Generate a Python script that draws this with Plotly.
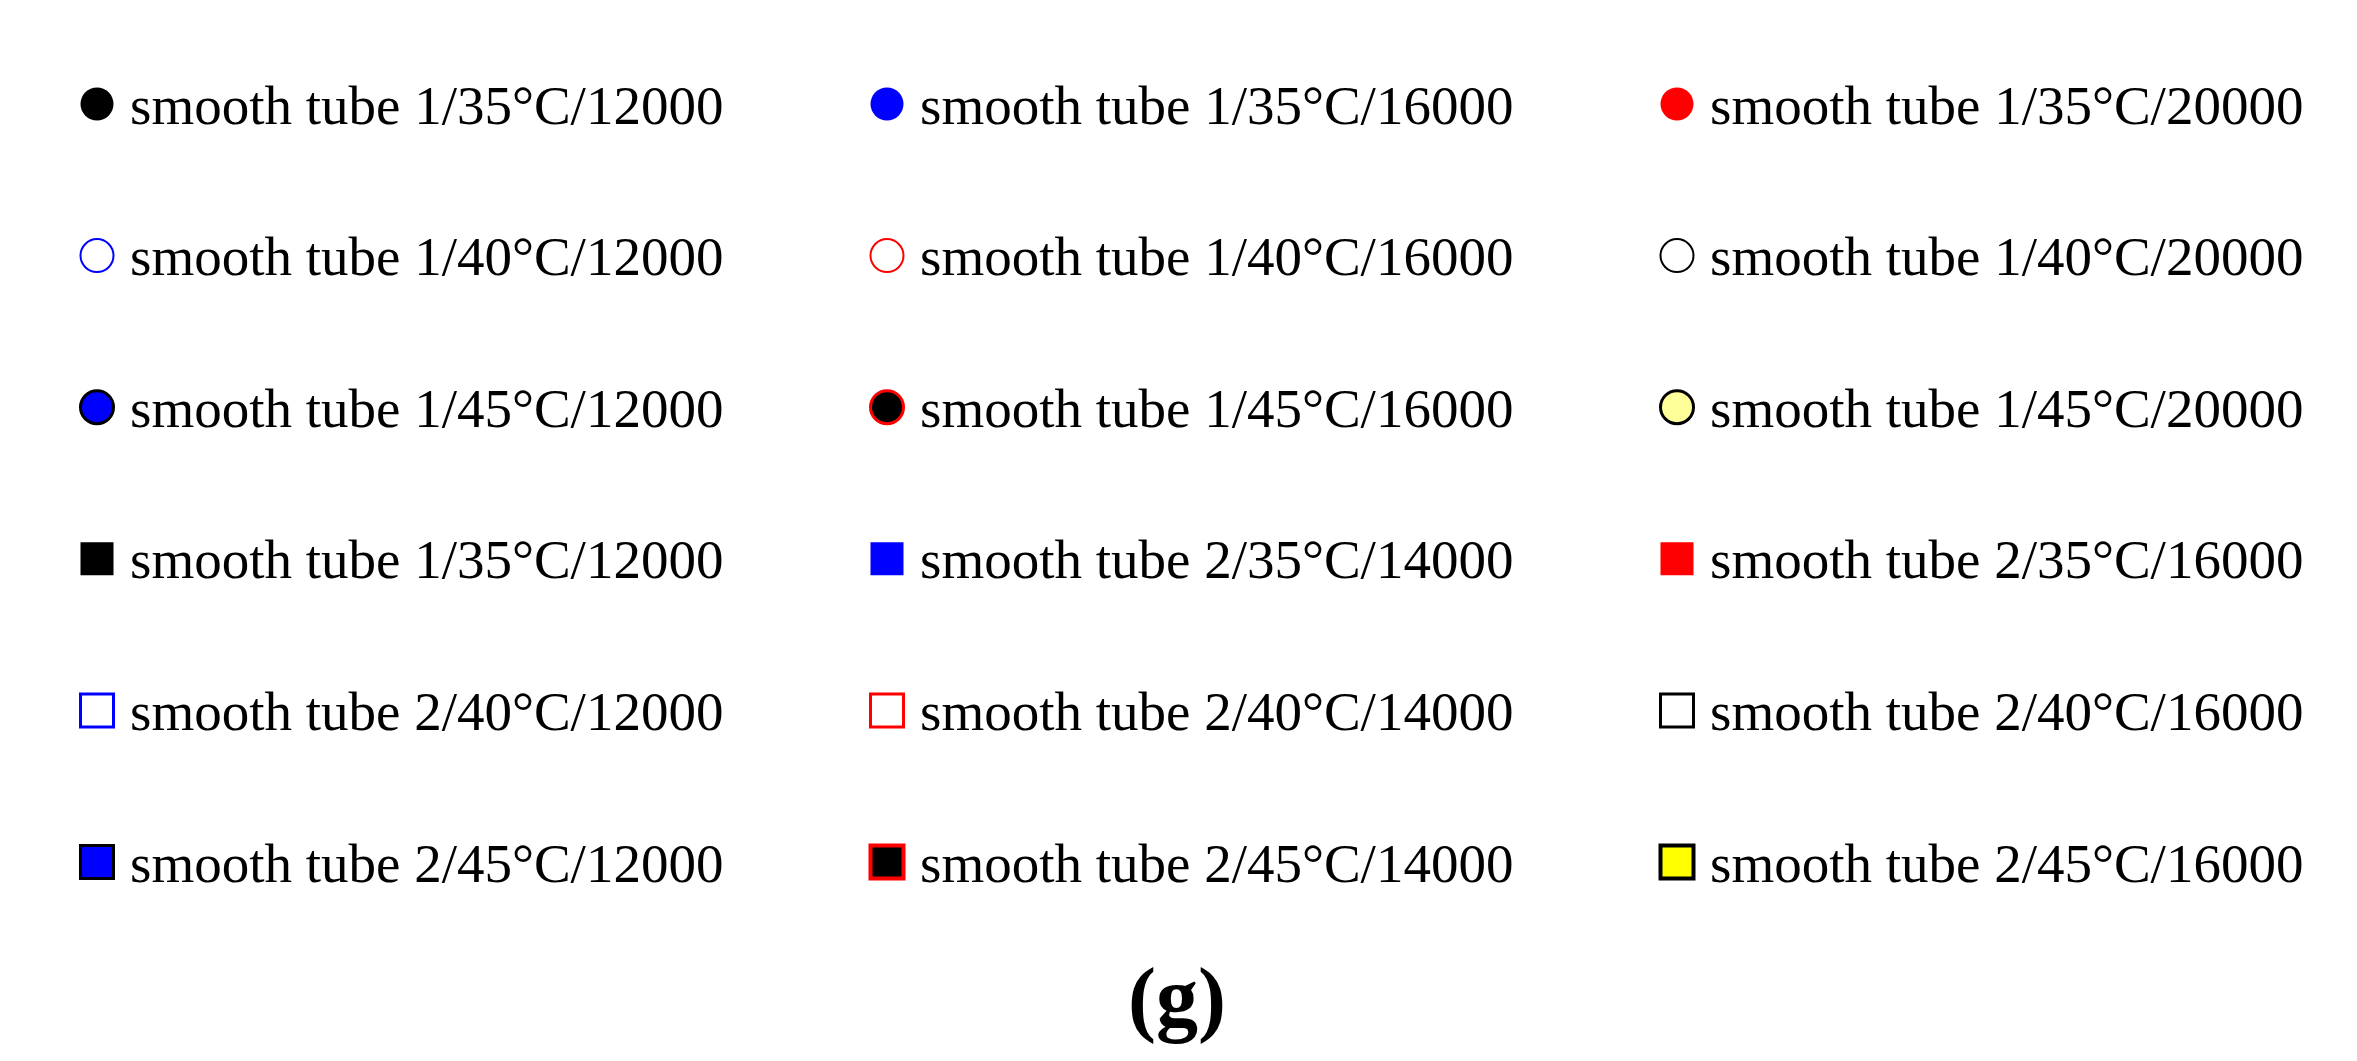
import plotly.graph_objects as go

# legend entries, read row by row (3 columns x 6 rows)
labels = [
    'smooth tube 1/35°C/12000', 'smooth tube 1/35°C/16000', 'smooth tube 1/35°C/20000',
    'smooth tube 1/40°C/12000', 'smooth tube 1/40°C/16000', 'smooth tube 1/40°C/20000',
    'smooth tube 1/45°C/12000', 'smooth tube 1/45°C/16000', 'smooth tube 1/45°C/20000',
    'smooth tube 1/35°C/12000', 'smooth tube 2/35°C/14000', 'smooth tube 2/35°C/16000',
    'smooth tube 2/40°C/12000', 'smooth tube 2/40°C/14000', 'smooth tube 2/40°C/16000',
    'smooth tube 2/45°C/12000', 'smooth tube 2/45°C/14000', 'smooth tube 2/45°C/16000',
]
n_cols = 3
caption = '(g)'

# marker styles per entry
symbols = ['circle'] * 9 + ['square'] * 9
fill_colors = [
    'black', 'blue', 'red',
    'white', 'white', 'white',
    'blue', 'black', '#ffff99',
    'black', 'blue', 'red',
    'white', 'white', 'white',
    'blue', 'black', 'yellow',
]
edge_colors = [
    'black', 'blue', 'red',
    'blue', 'red', 'black',
    'black', 'red', 'black',
    'black', 'blue', 'red',
    'blue', 'red', 'black',
    'black', 'red', 'black',
]
edge_widths = [0, 0, 0, 2, 2, 2, 3, 3, 3,
               0, 0, 0, 3, 3, 3, 3, 4, 4]
marker_sizes = [33] * 9 + [33] * 9

cols = [i % n_cols for i in range(len(labels))]
rows = [i // n_cols for i in range(len(labels))]

font_family = 'Liberation Serif, Times New Roman, serif'

fig = go.Figure()
fig.add_trace(go.Scatter(
    x=cols, y=rows, mode='markers',
    marker=dict(symbol=symbols, size=marker_sizes, color=fill_colors, opacity=1,
                line=dict(color=edge_colors, width=edge_widths)),
    hoverinfo='skip', showlegend=False,
))

for c, r, lab in zip(cols, rows, labels):
    fig.add_annotation(x=c, y=r, xref='x', yref='y', text=lab, showarrow=False,
                       xanchor='left', yanchor='middle', xshift=31, yshift=-1,
                       font=dict(family=font_family, size=55, color='black'))

fig.add_annotation(x=0.4994, y=0.059, xref='paper', yref='paper', text='<b>%s</b>' % caption,
                   showarrow=False, xanchor='center', yanchor='middle',
                   font=dict(family=font_family, size=84, color='black'))

W, H = 2357, 1061
col_px = 790.0
row_px = 151.6
x0 = -97.0 / col_px
y0 = -104.0 / row_px

fig.update_xaxes(range=[x0, x0 + W / col_px], visible=False, showgrid=False, zeroline=False)
fig.update_yaxes(range=[y0 + H / row_px, y0], visible=False, showgrid=False, zeroline=False)
fig.update_layout(width=W, height=H, margin=dict(l=0, r=0, t=0, b=0),
                  plot_bgcolor='white', paper_bgcolor='white')

# drop the browser's default body margin so the figure sits at the page corner
fig.write_html('out.html', config={'displayModeBar': False},
               post_script="document.body.style.margin='0';")
